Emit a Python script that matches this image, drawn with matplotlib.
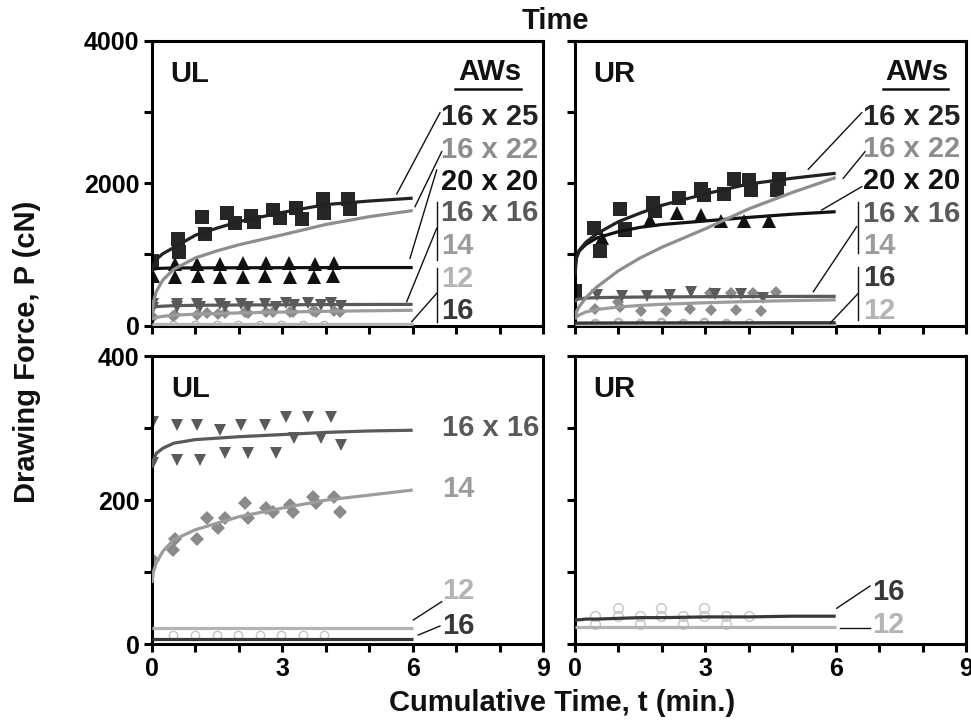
import matplotlib
matplotlib.use("Agg")
import matplotlib.pyplot as plt
from matplotlib.lines import Line2D
from matplotlib.ticker import FixedLocator

plt.rcParams['font.family'] = ['Liberation Sans', 'DejaVu Sans']
plt.rcParams['font.weight'] = 'bold'

# ---------------- data ----------------
CURVE_T = [0, 0.03, 0.1, 0.25, 0.5, 1, 1.5, 2, 3, 4, 5, 6]

# UL fitted curves
ul_16x25_fit = [750, 850, 930, 1010, 1095, 1270, 1370, 1460, 1590, 1700, 1750, 1790]
ul_16x22_fit = [120, 330, 480, 640, 790, 950, 1050, 1135, 1275, 1420, 1530, 1616]
ul_20x20_fit = [770, 790, 800, 805, 808, 810, 811, 812, 813, 814, 815, 815]
ul_16x16_fit = [245, 255, 265, 272, 279, 284, 286, 288, 291, 294, 296, 297]
ul_14_fit = [85, 100, 113, 129, 145, 159, 168, 177, 189, 200, 207, 214]
ul_12_fit = [22, 22, 22, 22, 22, 22, 22, 22, 22, 22, 22, 22]
ul_16_fit = [7, 7, 7, 7, 7, 7, 7, 7, 7, 7, 7, 7]

# UR fitted curves
ur_16x25_fit = [700, 950, 1060, 1170, 1290, 1460, 1580, 1690, 1850, 1990, 2070, 2140]
ur_16x22_fit = [100, 190, 270, 390, 540, 770, 950, 1100, 1360, 1640, 1870, 2080]
ur_20x20_fit = [800, 950, 1050, 1140, 1230, 1320, 1380, 1420, 1470, 1520, 1565, 1600]
ur_16x16_fit = [330, 360, 375, 385, 392, 397, 400, 402, 405, 407, 409, 410]
ur_14_fit = [90, 120, 150, 190, 225, 260, 282, 298, 320, 337, 350, 360]
ur_16_fit = [33, 34, 34, 35, 35, 36, 37, 37, 38, 38, 39, 39]
ur_12_fit = [24, 24, 24, 24, 24, 24, 24, 24, 24, 24, 24, 24]

# UL measured points
ul_sq_t = [0.0, 0.59, 0.63, 1.16, 1.22, 1.72, 1.92, 2.27, 2.35, 2.79, 2.94, 3.32, 3.45, 3.93, 3.97, 4.51, 4.55]
ul_sq_v = [900, 1222, 1038, 1524, 1281, 1587, 1435, 1540, 1458, 1622, 1517, 1646, 1493, 1775, 1588, 1775, 1635]
ul_tri_t = [0.03, 0.53, 1.03, 1.56, 2.1, 2.62, 3.15, 3.76, 4.2,
            0.03, 0.53, 1.06, 1.56, 2.1, 2.59, 3.17, 3.74, 4.16]
ul_tri_v = [880, 860, 870, 870, 877, 885, 877, 870, 877,
            690, 688, 700, 688, 680, 700, 688, 680, 700]
ul_dtri_t = [0.03, 0.57, 1.03, 1.56, 2.06, 2.59, 3.09, 3.59, 4.12,
             0.03, 0.57, 1.10, 1.67, 2.21, 2.86, 3.28, 3.90, 4.36]
ul_dtri_v = [309, 304, 304, 298, 304, 304, 315, 315, 315,
             251, 256, 256, 265, 265, 265, 286, 286, 277]
ul_dia_t = [0.03, 0.49, 0.53, 1.03, 1.26, 1.52, 1.68, 2.13, 2.21, 2.63, 2.79, 3.17, 3.24, 3.70, 3.78, 4.20, 4.32]
ul_dia_v = [117, 131, 146, 146, 175, 161, 175, 196, 175, 189, 184, 193, 184, 205, 196, 205, 184]
ul_circ_t = [0.49, 0.99, 1.49, 1.98, 2.48, 2.98, 3.47, 3.97]
ul_circ_v = [13, 13, 13, 13, 13, 13, 13, 13]

# UR measured points
ur_sq_t = [0.0, 0.43, 0.58, 1.04, 1.15, 1.80, 1.84, 2.39, 2.91, 2.98, 3.44, 3.67, 4.01, 4.05, 4.70, 4.66]
ur_sq_v = [480, 1375, 1045, 1635, 1352, 1717, 1616, 1790, 1922, 1835, 1852, 2064, 2040, 1899, 2064, 1899]
ur_tri_t = [0.63, 1.15, 1.72, 2.34, 2.91, 3.36, 3.90, 4.47]
ur_tri_v = [1230, 1347, 1488, 1582, 1558, 1464, 1464, 1464]
ur_dtri_t = [0.03, 0.50, 1.08, 1.65, 2.19, 2.68, 3.22, 3.83, 4.33]
ur_dtri_v = [380, 423, 415, 415, 423, 470, 440, 440, 380]
ur_dia_t = [0.47, 1.0, 1.04, 1.53, 2.1, 2.64, 3.14, 3.71, 4.28, 3.1, 3.6, 4.09, 4.63]
ur_dia_v = [236, 329, 258, 200, 200, 236, 212, 212, 200, 450, 460, 460, 475]
ur_circ_t = [0.47, 0.47, 1.0, 1.0, 1.5, 1.5, 1.99, 1.99, 2.49, 2.49, 2.98, 2.98, 3.48, 3.48, 4.01]
ur_circ_v = [39, 28, 51, 39, 39, 28, 51, 39, 39, 28, 51, 39, 39, 28, 39]

# colours
C_16x25 = '#222222'
C_16x22 = '#8e8e8e'
C_20x20 = '#111111'
C_16x16 = '#5a5a5a'
C_14 = '#9c9c9c'
C_12 = '#b4b4b4'
C_16 = '#383838'

W, H = 971, 726
fig = plt.figure(figsize=(W / 100, H / 100), dpi=100)


def rect(left, top, right, bottom):
    return [left / W, 1 - bottom / H, (right - left) / W, (bottom - top) / H]


ax_ul = fig.add_axes(rect(152, 41, 543, 325.5))
ax_ur = fig.add_axes(rect(575, 41, 966, 325.5))
ax_ll = fig.add_axes(rect(152, 356, 543, 644.3))
ax_lr = fig.add_axes(rect(575, 356, 966, 644.3))

LW = 2.3


def draw_panel(ax, pts, fits):
    for (t, v, m, c, ms, mfc) in pts:
        ax.plot(t, v, linestyle='none', marker=m, color=c, ms=ms,
                markerfacecolor=mfc, markeredgewidth=1.0 if mfc == 'none' else 0, zorder=2)
    for (v, c) in fits:
        ax.plot(CURVE_T, v, color=c, lw=LW, zorder=3, solid_capstyle='butt')


draw_panel(ax_ul,
           [(ul_circ_t, ul_circ_v, 'o', C_12, 6, 'none'),
            (ul_dia_t, ul_dia_v, 'D', '#8a8a8a', 6, '#8a8a8a'),
            (ul_dtri_t, ul_dtri_v, 'v', C_16x16, 9, C_16x16),
            (ul_tri_t, ul_tri_v, '^', C_20x20, 10, C_20x20),
            (ul_sq_t, ul_sq_v, 's', '#262626', 10.5, '#262626')],
           [(ul_16_fit, C_16), (ul_12_fit, C_12), (ul_14_fit, C_14), (ul_16x16_fit, C_16x16),
            (ul_20x20_fit, C_20x20), (ul_16x22_fit, C_16x22), (ul_16x25_fit, C_16x25)])

draw_panel(ax_ur,
           [(ur_circ_t, ur_circ_v, 'o', C_12, 6, 'none'),
            (ur_dia_t, ur_dia_v, 'D', '#8a8a8a', 6, '#8a8a8a'),
            (ur_dtri_t, ur_dtri_v, 'v', C_16x16, 9, C_16x16),
            (ur_tri_t, ur_tri_v, '^', C_20x20, 10, C_20x20),
            (ur_sq_t, ur_sq_v, 's', '#262626', 10.5, '#262626')],
           [(ur_12_fit, C_12), (ur_16_fit, C_16), (ur_14_fit, C_14), (ur_16x16_fit, C_16x16),
            (ur_20x20_fit, C_20x20), (ur_16x22_fit, C_16x22), (ur_16x25_fit, C_16x25)])

draw_panel(ax_ll,
           [(ul_circ_t, ul_circ_v, 'o', '#c4c4c4', 6, 'none'),
            (ul_dia_t, ul_dia_v, 'D', '#8a8a8a', 7, '#8a8a8a'),
            (ul_dtri_t, ul_dtri_v, 'v', C_16x16, 9, C_16x16)],
           [(ul_16_fit, C_16), (ul_12_fit, C_12), (ul_14_fit, C_14), (ul_16x16_fit, C_16x16)])

draw_panel(ax_lr,
           [(ur_circ_t, ur_circ_v, 'o', '#c4c4c4', 7, 'none')],
           [(ur_12_fit, C_12), (ur_16_fit, C_16)])

TICKFS = 18
for ax, top, bottom_row, left_col in [(ax_ul, 4000, False, True), (ax_ur, 4000, False, False),
                                      (ax_ll, 400, True, True), (ax_lr, 400, True, False)]:
    ax.set_xlim(0, 9)
    ax.set_ylim(0, top)
    ax.xaxis.set_major_locator(FixedLocator([0, 3, 6, 9]))
    ax.xaxis.set_minor_locator(FixedLocator([1, 2, 4, 5, 7, 8]))
    ax.yaxis.set_major_locator(FixedLocator([0, top / 2, top]))
    ax.yaxis.set_minor_locator(FixedLocator([top / 4, top * 3 / 4]))
    ax.tick_params(which='both', direction='out', length=6, width=2.2,
                   top=False, right=False, labelsize=TICKFS, pad=3)
    if not bottom_row:
        ax.tick_params(axis='x', labelbottom=False)
    if not left_col:
        ax.tick_params(axis='y', labelleft=False)
    ax.set_yticklabels([str(int(v)) for v in [0, top / 2, top]] if left_col else [])
    for sp in ax.spines.values():
        sp.set_linewidth(2.2)
    for lab in ax.get_xticklabels() + ax.get_yticklabels():
        lab.set_fontweight('bold')


def fx(X):
    return X / W


def fy(Y):
    return 1 - Y / H


def ftext(X, Y, s, color='#111111', size=20, ha='left', va='center', **kw):
    fig.text(fx(X), fy(Y), s, color=color, fontsize=size, fontweight='bold', ha=ha, va=va, **kw)


def fline(pts, lw=1.0, color='#111111'):
    xs = [fx(p[0]) for p in pts]
    ys = [fy(p[1]) for p in pts]
    fig.add_artist(Line2D(xs, ys, transform=fig.transFigure, lw=lw, color=color))


LBL = 21
# panel tags
ftext(170, 82, 'UL', va='baseline', size=LBL)
ftext(593, 82, 'UR', va='baseline', size=LBL)
ftext(171, 397, 'UL', va='baseline', size=LBL)
ftext(593, 397, 'UR', va='baseline', size=LBL)

# AWs headers
ftext(521, 80, 'AWs', ha='right', va='baseline', size=LBL)
fline([(455, 89), (521, 89)], lw=1.8)
ftext(948, 80, 'AWs', ha='right', va='baseline', size=LBL)
fline([(883, 89), (948, 89)], lw=1.8)

# UL top labels
ul_labels = [('16 x 25', 117, C_16x25), ('16 x 22', 150, C_16x22), ('20 x 20', 182, C_20x20),
             ('16 x 16', 213, C_16x16), ('14', 246, C_14), ('12', 279, C_12), ('16', 311, C_16)]
for s, Y, c in ul_labels:
    ftext(441, Y, s, color=c, size=LBL)
fline([(396.7, 194), (440, 112.7)])
fline([(415, 206.7), (441.7, 151.7)])
fline([(410, 258.3), (436.7, 170)])
fline([(406.7, 301.7), (436.7, 228.3)])
fline([(411.7, 321.7), (436.7, 293.3)])
fline([(436.7, 201.7), (436.7, 260)])
fline([(436.7, 268), (436.7, 321.7)])

# UR top labels
ur_labels = [('16 x 25', 117, C_16x25), ('16 x 22', 149, C_16x22), ('20 x 20', 181, C_20x20),
             ('16 x 16', 214, C_16x16), ('14', 246, C_14), ('16', 278, C_16), ('12', 311, C_12)]
for s, Y, c in ur_labels:
    ftext(863, Y, s, color=c, size=LBL)
fline([(808.3, 169.3), (861.7, 112.7)])
fline([(843.3, 178.3), (865, 151.7)])
fline([(821.7, 210), (861.7, 186.7)])
fline([(813.3, 291.7), (856.7, 226.7)])
fline([(830, 323.3), (858.3, 293.3)])
fline([(858.3, 201.7), (858.3, 253)])
fline([(858.3, 266.7), (858.3, 320)])

# LL labels
ftext(441.7, 428.3, '16 x 16', color=C_16x16, size=LBL)
ftext(441.7, 489, '14', color=C_14, size=LBL)
ftext(441.7, 591, '12', color=C_12, size=LBL)
ftext(441.7, 626, '16', color=C_16, size=LBL)
fline([(413.3, 620), (441.7, 601.7)])
fline([(418.3, 635), (440, 626)])

# LR labels
ftext(871.7, 591.7, '16', color=C_16, size=LBL)
ftext(871.7, 625, '12', color=C_12, size=LBL)
fline([(836.7, 608.3), (870, 586)])
fline([(840, 627.7), (870, 627.7)])

# titles
ftext(555, 21, 'Time', ha='center', size=LBL)
ftext(562, 703, 'Cumulative Time, t (min.)', ha='center', size=21)
ftext(27, 352, 'Drawing Force, P (cN)', ha='center', size=21, rotation=90)

fig.savefig('out.png', dpi=100)
